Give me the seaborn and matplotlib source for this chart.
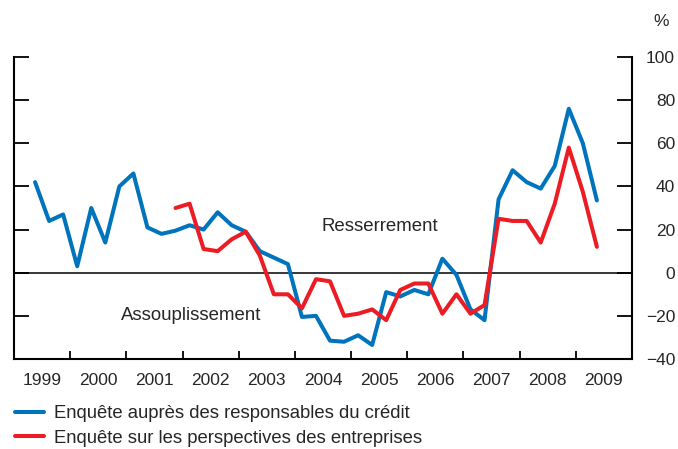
import numpy as np
import pandas as pd
import matplotlib
matplotlib.use("Agg")
import matplotlib.pyplot as plt
import seaborn as sns

# quarterly observations, 1999Q2 to 2009Q2
quarters = pd.period_range("1999Q2", "2009Q2", freq="Q")

credit_survey = [42, 24, 27, 3, 30, 14, 40, 46, 21, 18, 19.5, 22, 20, 28, 22, 19,
                 10, 7, 4, -20.5, -20, -31.5, -32, -29, -33.5, -9, -11, -8, -10, 6.5,
                 -1, -17, -22, 34, 47.5, 42, 39, 49.5, 76, 60, 33.5]

business_survey = [np.nan] * 10 + [30, 32, 11, 10, 15.5, 19, 8, -10, -10, -16.5,
                   -3, -4, -20, -19, -17, -22, -8, -5, -5, -19, -10, -19, -15,
                   25, 24, 24, 14, 32, 58, 37.5, 12]

series_names = ["Enquête auprès des responsables du crédit",
                "Enquête sur les perspectives des entreprises"]
colors = ["#0073bd", "#ec1c24"]
years = list(range(1999, 2010))

x = [q.year + (q.quarter - 0.5) / 4 for q in quarters]
df = pd.concat([
    pd.DataFrame({"date": x, "value": credit_survey, "series": series_names[0]}),
    pd.DataFrame({"date": x, "value": business_survey, "series": series_names[1]}),
]).dropna()

sns.set_style("white")
plt.rcParams["font.family"] = ["Liberation Sans", "DejaVu Sans"]

fig = plt.figure(figsize=(6.78, 4.49), dpi=100)
ax = fig.add_axes([14 / 678, 90 / 449, 618 / 678, 302 / 449])

sns.lineplot(data=df, x="date", y="value", hue="series", palette=colors,
             linewidth=2.9, ax=ax, legend=False)

ax.axhline(0, color="black", linewidth=1.1, zorder=1)

ax.set_xlim(1999, 2010)
ax.set_ylim(-40, 100)
ax.set_xticks(range(1999, 2011))
ax.set_xticks([y + 0.5 for y in years], minor=True)
ax.set_xticklabels([])
ax.set_xticklabels([str(y) for y in years], minor=True)
ax.set_yticks(range(-40, 101, 20))

ax.tick_params(axis="x", which="major", direction="in", length=6, width=1.3,
               color="black", bottom=True)
ax.tick_params(axis="x", which="minor", length=0, pad=10, labelsize=12.5)
ax.tick_params(axis="y", direction="in", length=11, width=1.3, color="black",
               left=True, right=True, labelleft=False, labelright=True,
               pad=31, labelsize=12.5)
for lab in ax.get_yticklabels():
    lab.set_horizontalalignment("right")

for side in ["left", "right", "bottom"]:
    ax.spines[side].set_visible(True)
    ax.spines[side].set_color("black")
    ax.spines[side].set_linewidth(1.5)
ax.spines["top"].set_visible(False)
ax.set_xlabel("")
ax.set_ylabel("")

ax.text(2005.51, 21.3, "Resserrement", ha="center", va="center", fontsize=13.4)
ax.text(2002.15, -19.9, "Assouplissement", ha="center", va="center", fontsize=13.4)
fig.text(661 / 678, 1 - 22 / 449, "%", ha="center", va="center", fontsize=12.5)

handles = [plt.Line2D([], [], color=c, linewidth=2.9) for c in colors]
fig.legend(handles, series_names, loc="upper left", bbox_to_anchor=(15 / 678, 1 - 405 / 449),
           frameon=False, fontsize=13.35, handlelength=1.57, handletextpad=0.54,
           labelspacing=0.42, borderpad=0, borderaxespad=0)

fig.savefig("out.png", dpi=100)
